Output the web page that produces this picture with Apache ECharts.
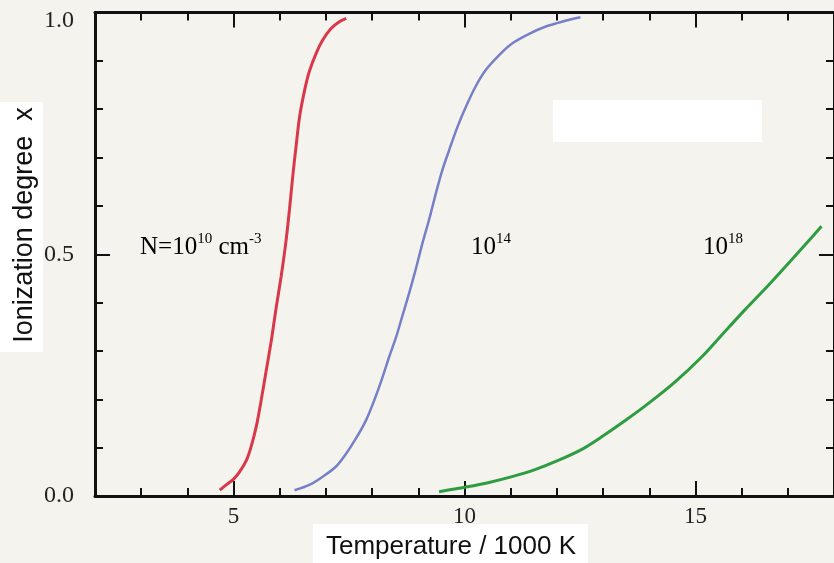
<!DOCTYPE html>
<html>
<head>
<meta charset="utf-8">
<script src="https://cdn.jsdelivr.net/npm/echarts@6/dist/echarts.min.js"></script>
<style>
  * { margin: 0; padding: 0; }
  html, body { width: 834px; height: 563px; overflow: hidden; background: #f4f3ee; }
  #renderDom { width: 834px; height: 563px; }
</style>
</head>
<body>
<div id="renderDom"></div>
<script>
// temperature in 1000 K, ionization degree
var redT = [4.70, 4.84, 4.99, 5.13, 5.28, 5.38, 5.49, 5.60, 5.71, 5.82, 5.92, 6.03, 6.13, 6.21,
  6.28, 6.36, 6.43, 6.54, 6.64, 6.79, 6.93, 7.11, 7.29, 7.44];
var redX = [0.012, 0.023, 0.034, 0.050, 0.074, 0.102, 0.143, 0.199, 0.261, 0.323, 0.388, 0.454, 0.523, 0.592,
  0.660, 0.729, 0.785, 0.840, 0.878, 0.916, 0.943, 0.967, 0.981, 0.988];
var blueT = [6.32, 6.64, 6.93, 7.22, 7.44, 7.65, 7.87, 8.05, 8.23, 8.37, 8.52, 8.66, 8.80, 8.95, 9.09,
  9.24, 9.38, 9.52, 9.67, 9.85, 10.03, 10.24, 10.46, 10.75, 11.03, 11.40, 11.76, 12.11, 12.51];
var blueX = [0.012, 0.023, 0.040, 0.061, 0.088, 0.119, 0.157, 0.199, 0.247, 0.288, 0.329, 0.374, 0.419, 0.471, 0.523,
  0.574, 0.626, 0.674, 0.716, 0.764, 0.805, 0.847, 0.881, 0.912, 0.936, 0.956, 0.971, 0.981, 0.990];
var greenT = [9.45, 10.06, 10.53, 11.03, 11.54, 12.04, 12.55, 12.98, 13.48, 13.99, 14.56, 15.14, 15.57,
  16.07, 16.58, 17.01, 17.37, 17.73];
var greenX = [0.009, 0.019, 0.028, 0.040, 0.055, 0.074, 0.097, 0.123, 0.156, 0.192, 0.236, 0.288, 0.333,
  0.385, 0.436, 0.481, 0.519, 0.558];
var xMajor = [5, 10, 15];
var yLabels = [0, 0.5, 1];

var serif = '"Liberation Serif", "DejaVu Serif", serif';
var sans = '"Liberation Sans", Arial, sans-serif';

function zip(a, b) {
  return a.map(function (v, i) { return [v, b[i]]; });
}

var myChart = echarts.init(document.getElementById('renderDom'), null, { renderer: 'canvas' });

var lineAx = { show: true, onZero: false, lineStyle: { color: '#111', width: 3 } };
var noLine = { show: false, onZero: false };
var minorTick = { show: true, inside: true, length: 8, lineStyle: { color: '#111', width: 2 } };
var majorTick = function (vals) {
  return { show: true, inside: true, length: 15, customValues: vals, lineStyle: { color: '#111', width: 2 } };
};

function xAx(pos, major) {
  return {
    type: 'value', position: pos, min: 2, max: 18,
    interval: major ? undefined : 1,
    axisLine: major ? noLine : lineAx,
    axisTick: major ? majorTick(xMajor) : minorTick,
    splitLine: { show: false },
    axisLabel: (major && pos === 'bottom') ? {
      show: true, customValues: xMajor, margin: 9,
      color: '#222', fontFamily: serif, fontSize: 23
    } : { show: false }
  };
}

function yAx(pos, major) {
  return {
    type: 'value', position: pos, min: 0, max: 1,
    interval: major ? undefined : 0.1,
    axisLine: major ? noLine : lineAx,
    axisTick: major ? majorTick([0.5]) : minorTick,
    splitLine: { show: false },
    axisLabel: (major && pos === 'left') ? {
      show: true, customValues: yLabels, margin: 21,
      color: '#222', fontFamily: serif, fontSize: 24,
      formatter: function (v) {
        return v > 0.99 ? '{t|' + v.toFixed(1) + '}' : v.toFixed(1);
      },
      rich: { t: { fontFamily: serif, fontSize: 24, color: '#222', padding: [16, 0, 0, 0] } }
    } : { show: false }
  };
}

function curve(d, color, w) {
  return {
    type: 'line', data: d, smooth: 0.3, showSymbol: false, symbol: 'none',
    xAxisIndex: 0, yAxisIndex: 0,
    lineStyle: { color: color, width: w }, z: 3
  };
}

var supRich = function (color) {
  return {
    a: { fontFamily: serif, fontSize: 25, color: color, lineHeight: 28, verticalAlign: 'bottom' },
    s: { fontFamily: serif, fontSize: 15, color: color, lineHeight: 28, verticalAlign: 'top' }
  };
};

var option = {
  backgroundColor: '#f4f3ee',
  animation: false,
  grid: { left: 95, top: 12.5, right: -2, bottom: 67 },
  xAxis: [xAx('bottom', false), xAx('bottom', true), xAx('top', false), xAx('top', true)],
  yAxis: [yAx('left', false), yAx('left', true), yAx('right', false), yAx('right', true)],
  series: [
    curve(zip(redT, redX), '#d9384b', 3),
    curve(zip(blueT, blueX), '#7680c6', 2.5),
    curve(zip(greenT, greenX), '#2e9c40', 3)
  ],
  graphic: [
    { type: 'rect', shape: { x: 553, y: 100, width: 209, height: 42 }, style: { fill: '#ffffff' }, z: 10 },
    { type: 'rect', shape: { x: 0, y: 102, width: 43, height: 250 }, style: { fill: '#ffffff' }, z: 10 },
    { type: 'rect', shape: { x: 313, y: 524, width: 275, height: 39 }, style: { fill: '#ffffff' }, z: 10 },
    {
      type: 'text', x: 451, y: 547, z: 11,
      style: { text: 'Temperature / 1000 K', font: '26px ' + sans, fill: '#111', align: 'center', verticalAlign: 'middle' }
    },
    {
      type: 'text', x: 25, y: 225, rotation: Math.PI / 2, z: 11,
      style: { text: 'Ionization degree  x', font: '27px ' + sans, fill: '#111', align: 'center', verticalAlign: 'middle' }
    },
    {
      type: 'text', x: 140, y: 232, z: 11,
      style: { text: '{a|N=10}{s|10}{a| cm}{s|-3}', rich: supRich('#d9384b') }
    },
    {
      type: 'text', x: 471, y: 232, z: 11,
      style: { text: '{a|10}{s|14}', rich: supRich('#6d78bd') }
    },
    {
      type: 'text', x: 703, y: 232, z: 11,
      style: { text: '{a|10}{s|18}', rich: supRich('#2e9c40') }
    }
  ]
};

myChart.setOption(option);
</script>
</body>
</html>
